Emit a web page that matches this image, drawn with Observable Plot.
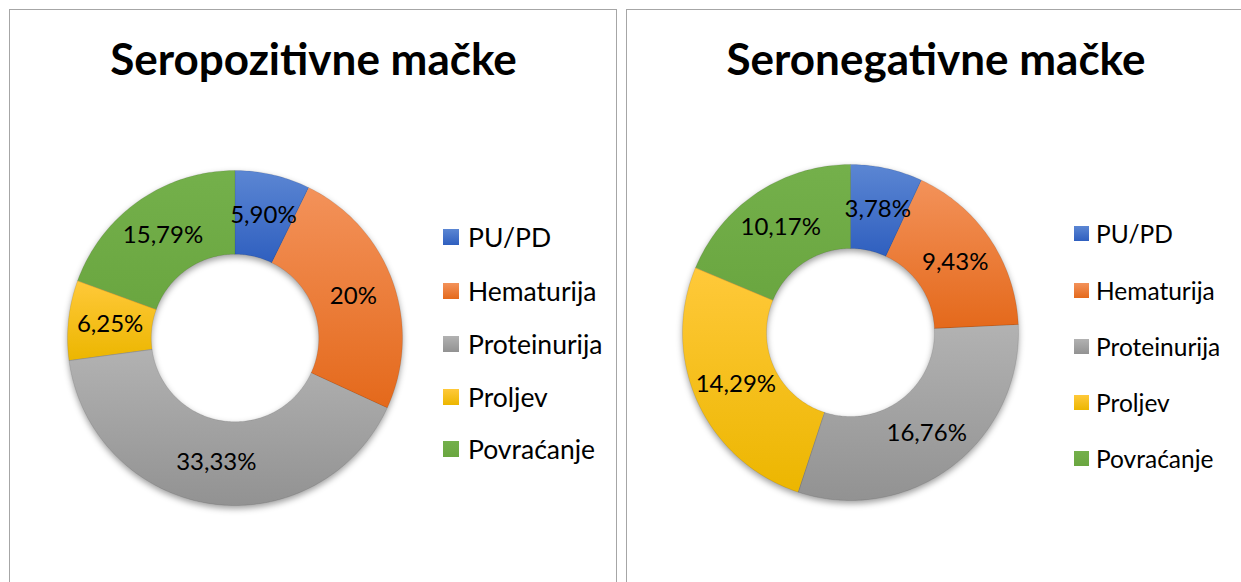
<!DOCTYPE html>
<html>
<head>
<meta charset="utf-8">
<script src="https://cdn.jsdelivr.net/npm/d3@7"></script>
<script src="https://cdn.jsdelivr.net/npm/@observablehq/plot@0.6"></script>
<style>
  html, body { margin: 0; padding: 0; background: #fff; width: 1241px; height: 582px; overflow: hidden; }
  body { position: relative; font-family: Lato, "Open Sans", sans-serif; color: #000; }
  .panel { position: absolute; border: 1.5px solid #a6a6a6; box-sizing: border-box; background: #fff; }
  .title { position: absolute; font-weight: 700; white-space: nowrap; transform: translateX(-50%); color: #000; }
  .leg { position: absolute; display: flex; align-items: center; white-space: nowrap; color: #000; }
  .sw { display: inline-block; flex: none; }
  .chart { position: absolute; }
  .chart svg { overflow: visible; }
</style>
</head>
<body>
<script>
// ---------------- data ----------------
const categories = ["PU/PD", "Hematurija", "Proteinurija", "Proljev", "Povraćanje"];
const positiveValues = [5.90, 20, 33.33, 6.25, 15.79];
const positiveLabels = ["5,90%", "20%", "33,33%", "6,25%", "15,79%"];
const negativeValues = [3.78, 9.43, 16.76, 14.29, 10.17];
const negativeLabels = ["3,78%", "9,43%", "16,76%", "14,29%", "10,17%"];
const titles = ["Seropozitivne mačke", "Seronegativne mačke"];
const gradTop = ["#5b86d3", "#f3925a", "#b2b2b2", "#ffc93a", "#74b04b"];
const gradBottom = ["#2f5fbf", "#e4691b", "#929292", "#ecb600", "#6aa640"];

// ---------------- layout ----------------
const panels = [
  {left: 9, top: 9, width: 608, height: 600, cx: 234.5, cy: 337.5, R: 167.5, titleX: 313.5, titleTop: 36, titleSize: 44,
   legX: 443, legRows: [237, 290.5, 343.5, 396.5, 449], sw: 16, legSize: 26.5, gap: 9,
   values: positiveValues, labels: positiveLabels, title: titles[0], id: "p"},
  {left: 626, top: 9, width: 640, height: 600, cx: 850, cy: 331.5, R: 168, titleX: 936, titleTop: 36, titleSize: 44,
   legX: 1074, legRows: [233.5, 290.5, 346, 402, 458.5], sw: 15, legSize: 24.5, gap: 7,
   values: negativeValues, labels: negativeLabels, title: titles[1], id: "n"}
];

const holeRatio = 0.5;
const pad = 14;

function ringFeatures(values, labels) {
  const arcs = d3.pie().sort(null).value(v => v)(values);
  return arcs.map((a, i) => {
    const ring = [];
    const steps = Math.max(4, Math.ceil((a.endAngle - a.startAngle) / (Math.PI / 180)));
    for (let k = 0; k <= steps; k++) {
      const t = a.startAngle + (a.endAngle - a.startAngle) * k / steps;
      ring.push([Math.sin(t), Math.cos(t)]);
    }
    for (let k = steps; k >= 0; k--) {
      const t = a.startAngle + (a.endAngle - a.startAngle) * k / steps;
      ring.push([holeRatio * Math.sin(t), holeRatio * Math.cos(t)]);
    }
    ring.push(ring[0]);
    const mid = (a.startAngle + a.endAngle) / 2;
    const lr = (1 + holeRatio) / 2;
    return {
      type: "Feature",
      properties: {category: categories[i], label: labels[i], lx: lr * Math.sin(mid), ly: lr * Math.cos(mid)},
      geometry: {type: "Polygon", coordinates: [ring]}
    };
  });
}

panels.forEach(p => {
  const panel = document.createElement("div");
  panel.className = "panel";
  Object.assign(panel.style, {left: p.left + "px", top: p.top + "px", width: p.width + "px", height: p.height + "px"});
  document.body.appendChild(panel);

  const title = document.createElement("div");
  title.className = "title";
  title.textContent = p.title;
  Object.assign(title.style, {left: p.titleX + "px", top: p.titleTop + "px", fontSize: p.titleSize + "px", lineHeight: p.titleSize + "px"});
  document.body.appendChild(title);

  const features = ringFeatures(p.values, p.labels);
  const size = 2 * p.R + 2 * pad;
  const svg = Plot.plot({
    width: size,
    height: size,
    margin: pad,
    projection: {type: "reflect-y", domain: {type: "MultiPoint", coordinates: [[-1, -1], [1, 1]]}},
    color: {type: "ordinal", domain: categories, range: categories.map((_, i) => `url(#grad-${p.id}-${i})`)},
    style: {background: "transparent", overflow: "visible"},
    marks: [
      Plot.geo(features, {fill: d => d.properties.category, stroke: "#000", strokeOpacity: 0.12, strokeWidth: 0.8}),
      Plot.text(features, {
        x: d => d.properties.lx, y: d => d.properties.ly, text: d => d.properties.label,
        fontSize: 24, fontFamily: "Lato, 'Open Sans', sans-serif", fill: "#000"
      })
    ]
  });
  // gradients
  const ns = "http://www.w3.org/2000/svg";
  const defs = document.createElementNS(ns, "defs");
  categories.forEach((_, i) => {
    const g = document.createElementNS(ns, "linearGradient");
    g.setAttribute("id", `grad-${p.id}-${i}`);
    g.setAttribute("x1", "0"); g.setAttribute("y1", "0"); g.setAttribute("x2", "0"); g.setAttribute("y2", "1");
    [[0, gradTop[i]], [1, gradBottom[i]]].forEach(([o, c]) => {
      const s = document.createElementNS(ns, "stop");
      s.setAttribute("offset", o); s.setAttribute("stop-color", c);
      g.appendChild(s);
    });
    defs.appendChild(g);
  });
  svg.insertBefore(defs, svg.firstChild);
  const geoG = svg.querySelector('g[aria-label="geo"]');
  if (geoG) geoG.style.filter = "drop-shadow(0px 3px 3px rgba(0,0,0,0.38))";

  const holder = document.createElement("div");
  holder.className = "chart";
  Object.assign(holder.style, {left: (p.cx - p.R - pad) + "px", top: (p.cy - p.R - pad) + "px", width: size + "px", height: size + "px"});
  holder.appendChild(svg);
  document.body.appendChild(holder);

  // legend
  categories.forEach((c, i) => {
    const item = document.createElement("div");
    item.className = "leg";
    const h = 32;
    Object.assign(item.style, {left: p.legX + "px", top: (p.legRows[i] - h / 2) + "px", height: h + "px", fontSize: p.legSize + "px"});
    const sw = document.createElement("span");
    sw.className = "sw";
    Object.assign(sw.style, {width: p.sw + "px", height: p.sw + "px", marginRight: p.gap + "px",
      background: `linear-gradient(${gradTop[i]}, ${gradBottom[i]})`});
    const tx = document.createElement("span");
    tx.textContent = c;
    item.appendChild(sw); item.appendChild(tx);
    document.body.appendChild(item);
  });
});
</script>
</body>
</html>
